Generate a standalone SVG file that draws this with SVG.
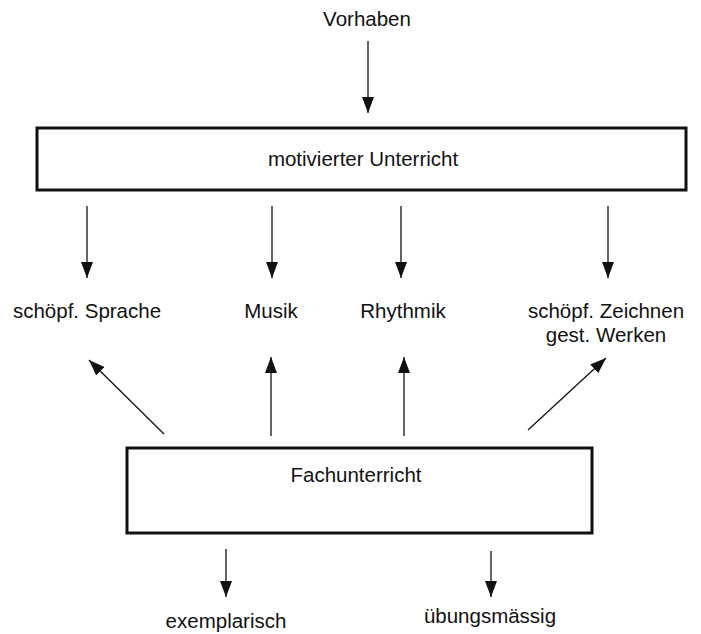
<svg xmlns="http://www.w3.org/2000/svg" width="701" height="634" viewBox="0 0 701 634">
<defs>
<marker id="ahl" viewBox="0 0 16 12" refX="16" refY="6" markerWidth="16" markerHeight="12" markerUnits="userSpaceOnUse" orient="auto">
<path d="M0,0 L16,6 L0,12 Z" fill="#111"/>
</marker>
</defs>
<style>
text{font-family:"Liberation Sans",Arial,sans-serif;font-size:20.5px;fill:#111;text-anchor:middle}
.box{fill:#fff;stroke:#111;stroke-width:3}
.c{stroke:#111;stroke-width:1.3;fill:none;marker-end:url(#ahl)}
</style>
<rect width="701" height="634" fill="#fff"/>
<g id="vorhaben"><text x="367" y="26">Vorhaben</text></g>
<g id="motiviert"><rect class="box" x="37" y="128" width="649" height="62"/><text x="363" y="166">motivierter Unterricht</text></g>
<g id="sprache"><text x="87" y="318">schöpf. Sprache</text></g>
<g id="musik"><text x="271" y="318">Musik</text></g>
<g id="rhythmik"><text x="403" y="318">Rhythmik</text></g>
<g id="zeichnen"><text x="606" y="318">schöpf. Zeichnen</text><text x="606" y="342">gest. Werken</text></g>
<g id="fach"><rect class="box" x="127" y="448" width="465" height="85"/><text x="356" y="482">Fachunterricht</text></g>
<g id="exemplarisch"><text x="226" y="628">exemplarisch</text></g>
<g id="uebung"><text x="490" y="623">übungsmässig</text></g>
<g id="connectors">
<line class="c" x1="368" y1="41" x2="368" y2="113"/>
<line class="c" x1="87" y1="206" x2="87" y2="278"/>
<line class="c" x1="272" y1="206" x2="272" y2="278"/>
<line class="c" x1="401" y1="206" x2="401" y2="278"/>
<line class="c" x1="608" y1="206" x2="608" y2="278"/>
<line class="c" x1="164" y1="434" x2="89" y2="360"/>
<line class="c" x1="271" y1="436" x2="271" y2="357"/>
<line class="c" x1="404" y1="436" x2="404" y2="357"/>
<line class="c" x1="528" y1="430" x2="606" y2="358"/>
<line class="c" x1="226" y1="549" x2="226" y2="597"/>
<line class="c" x1="491" y1="551" x2="491" y2="597"/>
</g>
</svg>
